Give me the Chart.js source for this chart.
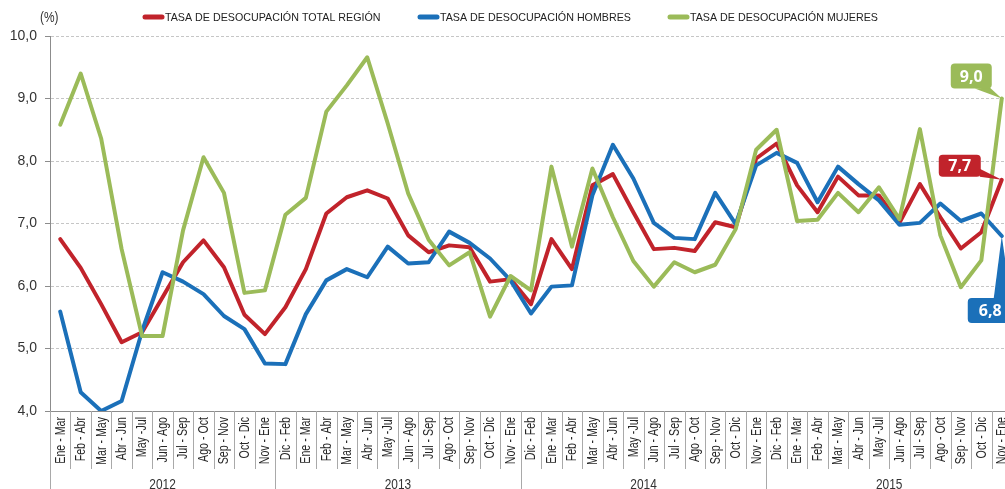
<!DOCTYPE html>
<html>
<head>
<meta charset="utf-8">
<script src="https://cdn.jsdelivr.net/npm/chart.js@4.4.1/dist/chart.umd.min.js"></script>
<style>
  html, body { margin: 0; padding: 0; background: #fff; overflow: hidden; width: 1005px; height: 489px; }
  canvas { display: block; }
</style>
</head>
<body>
<canvas id="desocupacion" width="1020" height="489"></canvas>
<script>
// trimestres móviles
const periods = [
  'Ene - Mar','Feb - Abr','Mar - May','Abr - Jun','May -Jul','Jun - Ago','Jul - Sep','Ago - Oct','Sep - Nov','Oct - Dic','Nov - Ene',
  'Dic - Feb','Ene - Mar','Feb - Abr','Mar - May','Abr - Jun','May -Jul','Jun - Ago','Jul - Sep','Ago - Oct','Sep - Nov','Oct - Dic','Nov - Ene',
  'Dic - Feb','Ene - Mar','Feb - Abr','Mar - May','Abr - Jun','May -Jul','Jun - Ago','Jul - Sep','Ago - Oct','Sep - Nov','Oct - Dic','Nov - Ene',
  'Dic - Feb','Ene - Mar','Feb - Abr','Mar - May','Abr - Jun','May -Jul','Jun - Ago','Jul - Sep','Ago - Oct','Sep - Nov','Oct - Dic','Nov - Ene'
];
const years = ['2012', '2013', '2014', '2015'];
const periodsPerYear = [11, 12, 12, 12];

const totalRegion = [
  6.75, 6.29, 5.71, 5.10, 5.26, 5.82, 6.38, 6.73, 6.30, 5.54, 5.23,
  5.66, 6.27, 7.16, 7.42, 7.53, 7.40, 6.81, 6.54, 6.65, 6.62, 6.07, 6.11,
  5.71, 6.75, 6.27, 7.61, 7.79, 7.18, 6.59, 6.61, 6.56, 7.02, 6.94, 8.04,
  8.28, 7.61, 7.18, 7.75, 7.45, 7.45, 7.01, 7.63, 7.10, 6.60, 6.86, 7.7
];
const hombres = [
  5.59, 4.30, 4.00, 4.16, 5.28, 6.22, 6.07, 5.87, 5.52, 5.31, 4.76,
  4.75, 5.55, 6.09, 6.27, 6.14, 6.63, 6.36, 6.38, 6.87, 6.69, 6.44, 6.09,
  5.56, 5.99, 6.01, 7.45, 8.26, 7.72, 7.01, 6.77, 6.75, 7.49, 6.99, 7.93,
  8.13, 7.97, 7.34, 7.91, 7.63, 7.37, 6.98, 7.01, 7.32, 7.04, 7.16, 6.8
];
const mujeres = [
  8.58, 9.40, 8.36, 6.59, 5.20, 5.20, 6.89, 8.06, 7.49, 5.89, 5.93,
  7.14, 7.41, 8.79, 9.21, 9.66, 8.60, 7.48, 6.74, 6.33, 6.54, 5.51, 6.16,
  5.93, 7.91, 6.63, 7.88, 7.10, 6.40, 5.99, 6.38, 6.22, 6.34, 6.91, 8.18,
  8.50, 7.04, 7.06, 7.49, 7.18, 7.58, 7.07, 8.51, 6.81, 5.98, 6.41, 9.0
];
const yMin = 4;
const yMax = 10;

const RED = '#c1232b';
const BLUE = '#1b70b9';
const GREEN = '#9bbb59';
const SANS = "'Liberation Sans', Arial, sans-serif";

const fmt = v => v.toFixed(1).replace('.', ',');

// Arial-like text squeezed horizontally, to look like a narrow face
function narrowText(ctx, text, x, y, angle, align, squeeze) {
  ctx.save();
  ctx.translate(x, y);
  if (angle) ctx.rotate(angle);
  ctx.scale(squeeze, 1);
  ctx.textAlign = align;
  ctx.fillText(text, 0, 0);
  ctx.restore();
}

const decorations = {
  id: 'decorations',
  beforeDatasetsDraw(chart) {
    const { ctx, chartArea: a, scales: { x } } = chart;
    const yearBounds = [];
    let acc = 0;
    periodsPerYear.forEach(n => { acc += n; yearBounds.push(acc); });
    ctx.save();
    ctx.strokeStyle = '#a9a9a9';
    ctx.lineWidth = 1;
    for (let i = 0; i <= periods.length; i++) {
      const px = Math.round(x.getPixelForValue(i - 0.5)) + 0.5;
      const isYear = i === 0 || yearBounds.includes(i);
      ctx.beginPath();
      ctx.moveTo(px, a.bottom);
      ctx.lineTo(px, isYear ? chart.height : a.bottom + 58);
      ctx.stroke();
    }
    // period labels, vertical
    ctx.fillStyle = '#262626';
    ctx.font = '14px ' + SANS;
    ctx.textBaseline = 'middle';
    periods.forEach((p, i) => {
      narrowText(ctx, p, x.getPixelForValue(i) + 0.5, a.bottom + 6, -Math.PI / 2, 'right', 0.76);
    });
    // years
    ctx.fillStyle = '#333';
    ctx.font = '14px ' + SANS;
    let start = 0;
    years.forEach((yr, k) => {
      const end = start + periodsPerYear[k] - 1;
      const cx = (x.getPixelForValue(start - 0.5) + x.getPixelForValue(end + 0.5)) / 2;
      narrowText(ctx, yr, cx, 485, 0, 'center', 0.85);
      start = end + 1;
    });
    ctx.restore();
  },
  afterDraw(chart) {
    const { ctx } = chart;
    ctx.save();
    ctx.textBaseline = 'middle';
    // unit
    ctx.fillStyle = '#333';
    ctx.font = '14px ' + SANS;
    narrowText(ctx, '(%)', 40, 18, 0, 'left', 0.85);
    // legend
    const legendX = [143, 418, 668];
    ctx.font = '11.5px ' + SANS;
    chart.data.datasets.forEach((ds, i) => {
      const lx = legendX[i];
      ctx.strokeStyle = ds.borderColor;
      ctx.lineWidth = 5;
      ctx.lineCap = 'round';
      ctx.beginPath();
      ctx.moveTo(lx + 2, 17);
      ctx.lineTo(lx + 19, 17);
      ctx.stroke();
      ctx.fillStyle = '#222';
      narrowText(ctx, ds.label, lx + 22, 18, 0, 'left', 0.93);
    });
    // callouts on the last value
    const boxes = [
      { box: [-63, -25, 42, 22], tri: [[-22, -11], [-22, -3]] },
      { box: [-34, 62, 45, 25], tri: [[-8, 62], [9, 62]] },
      { box: [-51, -35, 41, 25], tri: [[-27, -10], [-12, -11]] }
    ];
    chart.data.datasets.forEach((ds, i) => {
      const meta = chart.getDatasetMeta(i);
      const last = meta.data[meta.data.length - 1];
      const px = last.x, py = last.y;
      const b = boxes[i];
      ctx.fillStyle = ds.borderColor;
      ctx.beginPath();
      ctx.moveTo(px, py);
      ctx.lineTo(px + b.tri[0][0], py + b.tri[0][1]);
      ctx.lineTo(px + b.tri[1][0], py + b.tri[1][1]);
      ctx.closePath();
      ctx.fill();
      ctx.beginPath();
      ctx.roundRect(px + b.box[0], py + b.box[1], b.box[2], b.box[3], 4);
      ctx.fill();
      ctx.fillStyle = '#fff';
      ctx.font = "bold 16px 'Open Sans', sans-serif";
      ctx.textAlign = 'center';
      ctx.fillText(fmt(ds.data[ds.data.length - 1]), px + b.box[0] + b.box[2] / 2, py + b.box[1] + b.box[3] / 2 + 1);
    });
    ctx.restore();
  }
};

const lineStyle = {
  borderWidth: 4,
  pointRadius: 0,
  tension: 0,
  fill: false,
  borderJoinStyle: 'round',
  borderCapStyle: 'round'
};

new Chart(document.getElementById('desocupacion'), {
  type: 'line',
  data: {
    labels: periods,
    datasets: [
      { label: 'TASA DE DESOCUPACIÓN TOTAL REGIÓN', data: totalRegion, borderColor: RED, backgroundColor: RED, order: 3, ...lineStyle },
      { label: 'TASA DE DESOCUPACIÓN HOMBRES', data: hombres, borderColor: BLUE, backgroundColor: BLUE, order: 2, ...lineStyle },
      { label: 'TASA DE DESOCUPACIÓN MUJERES', data: mujeres, borderColor: GREEN, backgroundColor: GREEN, order: 1, ...lineStyle }
    ]
  },
  options: {
    responsive: false,
    animation: false,
    layout: { padding: { top: 36, right: 8, left: 0, bottom: 0 } },
    plugins: {
      legend: { display: false },
      tooltip: { enabled: false }
    },
    scales: {
      x: {
        offset: true,
        grid: { display: false, drawTicks: false },
        border: { display: true, color: '#8c8c8c', width: 1 },
        ticks: { display: false },
        afterFit: s => { s.height = 78; }
      },
      y: {
        min: yMin,
        max: yMax,
        grid: { color: '#c6c6c6', tickColor: '#8c8c8c', tickLength: 5 },
        border: { display: true, color: '#8c8c8c', dash: [3, 2] },
        ticks: {
          stepSize: 1,
          padding: 8,
          color: '#333',
          font: { family: SANS, size: 14 },
          callback: v => fmt(v)
        },
        afterFit: s => { s.width = 50; }
      }
    }
  },
  plugins: [decorations]
});
</script>
</body>
</html>
